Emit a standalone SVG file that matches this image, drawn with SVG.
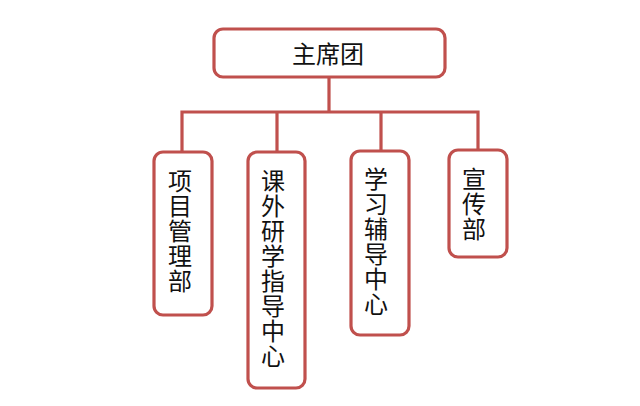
<svg xmlns="http://www.w3.org/2000/svg" width="640" height="406" viewBox="0 0 640 406">
<style>
.box{fill:#fff;stroke:#C0504D;stroke-width:3.2}
.ln{fill:none;stroke:#C0504D;stroke-width:3.2;stroke-linecap:square}
.t{font-family:"Noto Sans CJK SC","Noto Sans",sans-serif;font-size:24px;fill:#111;text-anchor:middle}
.v{font-family:"Noto Sans CJK SC","Noto Sans",sans-serif;font-size:24px;fill:#111;writing-mode:vertical-rl;text-orientation:upright;letter-spacing:1px}
</style>
<rect width="640" height="406" fill="#fff"/>
<g id="connectors">
<path class="ln" d="M329,77 V112 M182,112 H478 M182,112 V152 M277,112 V152 M381,112 V151 M478,112 V150"/>
</g>
<g id="n0">
<rect class="box" x="214" y="29" width="231" height="48" rx="9"/>
<text class="t" x="328" y="63">主席团</text>
</g>
<g id="n1">
<rect class="box" x="154" y="152" width="58" height="163" rx="9"/>
<text class="v" x="180" y="169">项目管理部</text>
</g>
<g id="n2">
<rect class="box" x="248" y="152" width="57" height="236" rx="9"/>
<text class="v" x="273" y="169">课外研学指导中心</text>
</g>
<g id="n3">
<rect class="box" x="351" y="151" width="58" height="184" rx="9"/>
<text class="v" x="376" y="167">学习辅导中心</text>
</g>
<g id="n4">
<rect class="box" x="449" y="150" width="58" height="107" rx="9"/>
<text class="v" x="474" y="167">宣传部</text>
</g>
</svg>
